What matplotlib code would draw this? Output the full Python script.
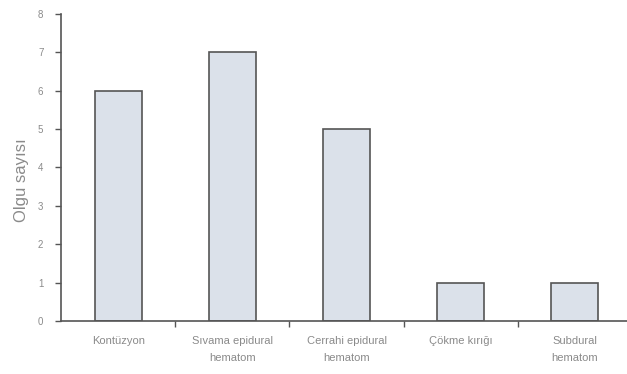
import numpy as np
import matplotlib
matplotlib.use('Agg')
import matplotlib.pyplot as plt

plt.rcParams['font.family'] = ['Liberation Sans', 'DejaVu Sans']

#data
categories = ['Kontüzyon', 'Sıvama epidural\nhematom', 'Cerrahi epidural\nhematom',
              'Çökme kırığı', 'Subdural\nhematom']
counts = [6, 7, 5, 1, 1]
y_ticks = [0, 1, 2, 3, 4, 5, 6, 7, 8]

TEXT_GRAY = '#8a8a8a'
EDGE = '#555555'

fig = plt.figure(figsize=(6.27, 3.74), dpi=100)
ax = fig.add_axes([0.098, 0.142, 0.902, 0.821])

x = np.arange(len(categories))
ax.bar(x, counts, width=0.41, color='#dbe1ea', edgecolor=EDGE, linewidth=1.2, zorder=2)

ax.set_xlim(-0.5, 4.46)
ax.set_ylim(0, 8)

#ticks between categories on x, labels centered under bars
ax.set_xticks(x[:-1] + 0.5)
ax.set_xticklabels([])
ax.set_xticks(x, minor=True)
ax.set_xticklabels(categories, minor=True, fontsize=8, color=TEXT_GRAY, linespacing=1.8)
ax.tick_params(axis='x', which='minor', length=0, pad=11)
ax.tick_params(axis='x', which='major', length=4, width=1, color=EDGE)

ax.set_yticks(y_ticks)
ax.set_yticklabels([str(v) for v in y_ticks], fontsize=7, color=TEXT_GRAY)
ax.tick_params(axis='y', length=4, width=1, color=EDGE, pad=9)

ax.set_ylabel('Olgu sayısı', fontsize=12, color=TEXT_GRAY)
ax.yaxis.set_label_coords(-0.058, 0.46)

for s in ['top', 'right']:
    ax.spines[s].set_visible(False)
for s in ['left', 'bottom']:
    ax.spines[s].set_color(EDGE)
    ax.spines[s].set_linewidth(1.2)

fig.savefig('out.png', dpi=100)
